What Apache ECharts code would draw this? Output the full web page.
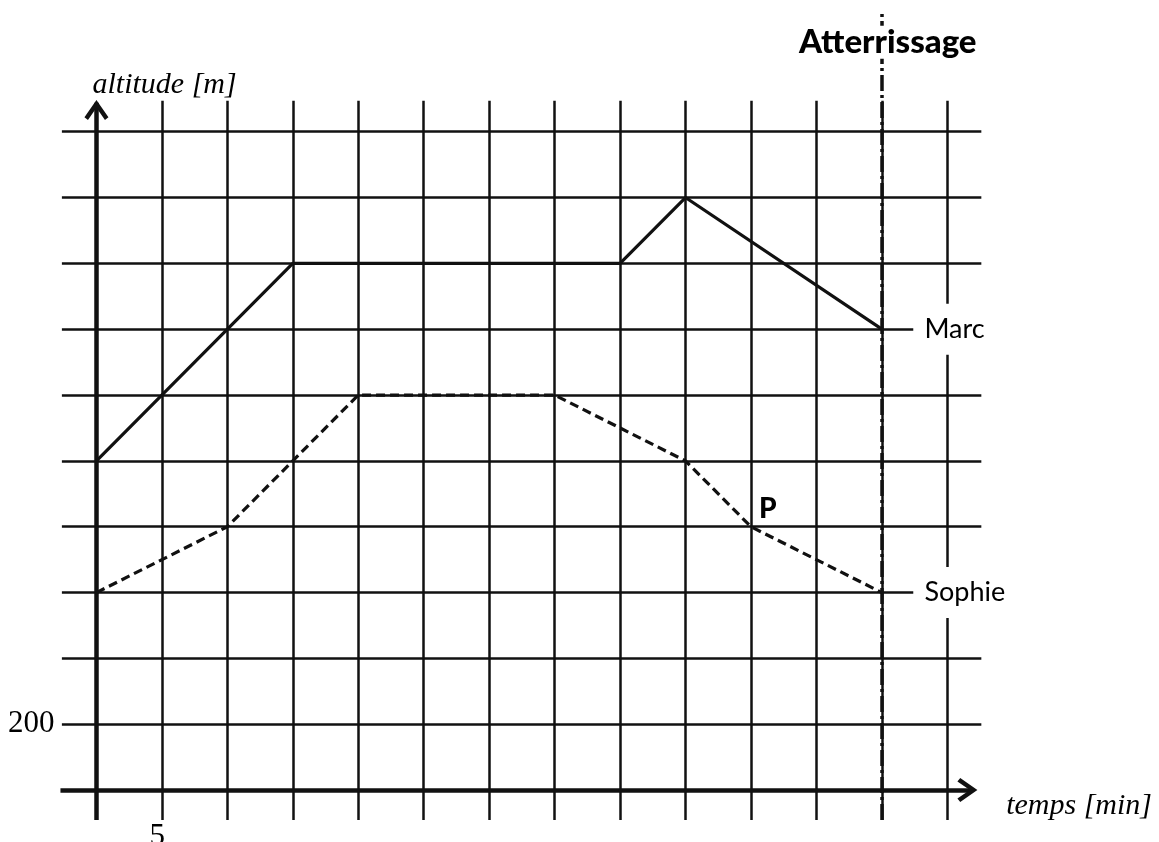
<!DOCTYPE html>
<html><head><meta charset="utf-8">
<script src="https://cdn.jsdelivr.net/npm/echarts@6/dist/echarts.min.js"></script>
<style>html,body{margin:0;padding:0;background:#fff}#c{width:1159px;height:842px}</style>
</head><body><div id="c"></div>
<script>
// ---- data ----
const timeTicks = [5,10,15,20,25,30,35,40,45,50,55,60,65];     // vertical grid lines [min]
const altTicks = [200,400,600,800,1000,1200,1400,1600,1800,2000]; // horizontal grid lines [m]
const landingTime = 60;
const marcTime = [0,15,40,45,60];
const marcAlt  = [1000,1600,1600,1800,1400];
const sophieTime = [0,10,20,35,45,50,60];
const sophieAlt  = [600,800,1200,1200,1000,800,600];
const yTickLabel = '200';
const xTickLabel = '5';
const pointP = [50, 800];

// ---- layout constants (data-space extents of the drawn grid) ----
const X_LEFT = -2.64, X_RIGHT = 67.6, X_SHORT = 62.4;
const Y_BOTTOM = -91, Y_TOP = 2094;
const INK = '#111';

const shortLines = [marcAlt[marcAlt.length-1], sophieAlt[sophieAlt.length-1]];
const gridLines = [];
altTicks.forEach(a => gridLines.push({coords:[[X_LEFT,a],[shortLines.includes(a)?X_SHORT:X_RIGHT,a]]}));
timeTicks.forEach(t => gridLines.push({coords:[[t,Y_BOTTOM],[t,Y_TOP]]}));

const axisLines = [
  {coords:[[0,Y_BOTTOM],[0,2088]]},
  {coords:[[-2.75,0],[66.9,0]]}
];
const upArrow = 'path://M12,0 L24,17 L20.5,19.8 L12,7.5 L3.5,19.8 L0,17 Z';
const rightArrow = 'path://M19.8,12 L2.8,24 L0,20.5 L12.3,12 L0,3.5 L2.8,0 Z';

const serif = 'Liberation Serif';
const T = (value, label) => ({value, label:Object.assign({color:'#000', opacity:1}, label)});
const texts = [
  T([-3.2, altTicks[0]], {formatter:yTickLabel, align:'right', verticalAlign:'middle', fontFamily:serif, fontSize:31}),
  T([timeTicks[0]-0.35, -94], {formatter:xTickLabel, align:'center', verticalAlign:'top', fontFamily:serif, fontSize:31}),
  T([-0.3, 2141], {formatter:'altitude [m]', align:'left', verticalAlign:'middle', fontFamily:serif, fontStyle:'italic', fontSize:30}),
  T([69.5, -48], {formatter:'temps [min]', align:'left', verticalAlign:'middle', fontFamily:serif, fontStyle:'italic', fontSize:30}),
  T([landingTime+0.45, 2272], {formatter:'Atterrissage', align:'center', verticalAlign:'middle', fontFamily:'Lato', fontWeight:900, fontSize:33, backgroundColor:'#fff', padding:[0,1]}),
  T([63.1, marcAlt[marcAlt.length-1]], {formatter:'Marc', align:'left', verticalAlign:'middle', fontFamily:'Lato', fontSize:27, backgroundColor:'#fff', padding:[12,2]}),
  T([63.1, sophieAlt[sophieAlt.length-1]], {formatter:'Sophie', align:'left', verticalAlign:'middle', fontFamily:'Lato', fontSize:27, backgroundColor:'#fff', padding:[12,2]}),
  T(pointP, {formatter:'P', align:'left', verticalAlign:'bottom', fontFamily:'Lato', fontWeight:900, fontSize:28, offset:[8,-4]})
];

const chart = echarts.init(document.getElementById('c'), null, {renderer:'canvas'});
chart.setOption({
  animation:false,
  backgroundColor:'#fff',
  grid:{left:31, right:15.35, top:0, bottom:19},
  xAxis:{type:'value', min:-5, max:80, show:false},
  yAxis:{type:'value', min:-100, max:2400, show:false},
  series:[
    {type:'lines', coordinateSystem:'cartesian2d', clip:false, silent:true, z:1,
     lineStyle:{color:INK, width:2.5, opacity:1}, data:gridLines},
    {type:'lines', coordinateSystem:'cartesian2d', clip:false, silent:true, z:2,
     lineStyle:{color:INK, width:4.5, opacity:1}, data:axisLines},
    {type:'scatter', clip:false, silent:true, z:3, itemStyle:{color:INK, opacity:1},
     data:[
       {value:[0,2096], symbol:upArrow, symbolSize:[24,20], symbolOffset:[0,10]},
       {value:[67.3,0], symbol:rightArrow, symbolSize:[20,24], symbolOffset:[-10,0]}
     ]},
    {type:'lines', coordinateSystem:'cartesian2d', clip:false, silent:true, z:4,
     lineStyle:{color:INK, width:3.5, opacity:1, type:[16,4,3,4]},
     data:[{coords:[[landingTime,Y_BOTTOM],[landingTime,2363]]}]},
    {type:'line', name:'Marc', clip:false, showSymbol:false, z:5,
     lineStyle:{color:INK, width:3.2},
     data:marcTime.map((t,i)=>[t, marcAlt[i]])},
    {type:'line', name:'Sophie', clip:false, showSymbol:false, z:5,
     lineStyle:{color:INK, width:3.2, type:[9,5]},
     data:sophieTime.map((t,i)=>[t, sophieAlt[i]])},
    {type:'scatter', clip:false, silent:true, z:6, symbolSize:0,
     itemStyle:{opacity:1},
     label:{show:true, position:'inside', color:'#000', opacity:1},
     data:texts}
  ]
});
</script>
</body></html>
